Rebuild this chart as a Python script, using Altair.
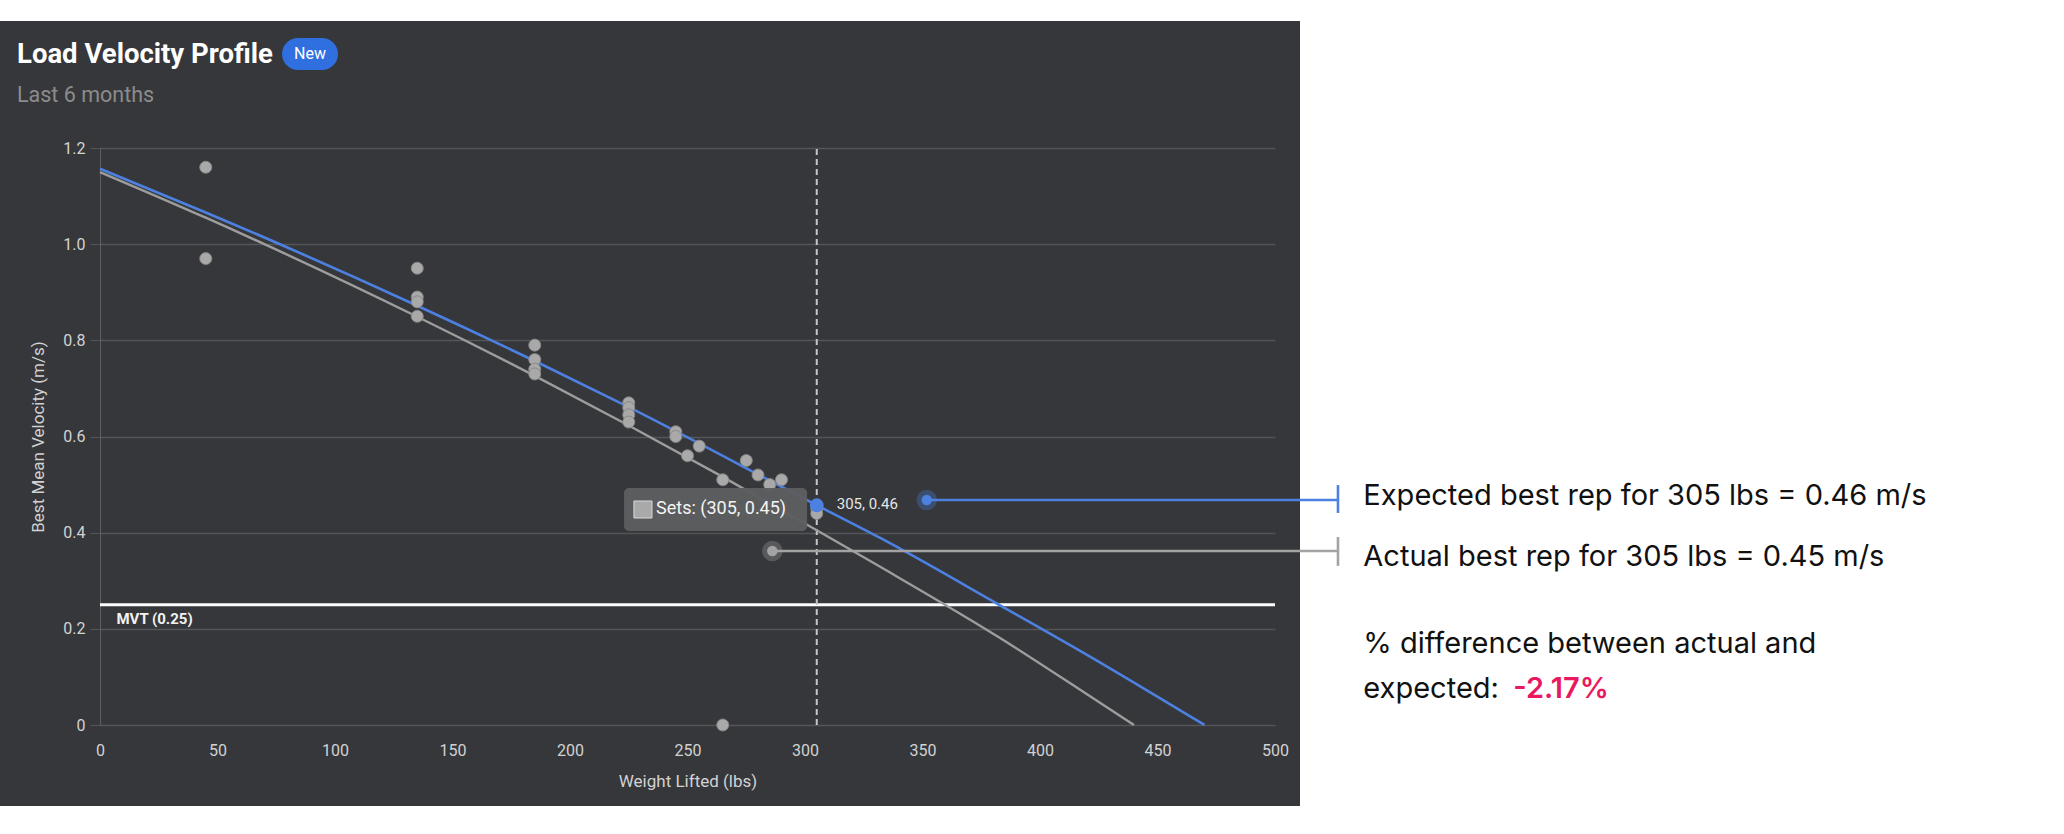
import altair as alt
import pandas as pd

# ---------------- data ----------------
set_weights = [45, 45, 135, 135, 135, 135, 185, 185, 185, 185, 225, 225, 225, 225,
               245, 245, 250, 255, 265, 275, 280, 285, 290, 305, 305, 265]
set_velocities = [1.16, 0.97, 0.95, 0.89, 0.88, 0.85, 0.79, 0.76, 0.74, 0.73, 0.67, 0.66, 0.645, 0.63,
                  0.61, 0.60, 0.56, 0.58, 0.51, 0.55, 0.52, 0.50, 0.51, 0.45, 0.44, 0.0]

expected_x = [0, 45, 135, 185, 225, 305, 332, 383, 420, 470]
expected_y = [1.157, 1.066, 0.872, 0.757, 0.661, 0.457, 0.389, 0.249, 0.146, 0.0]

actual_x = [0, 45, 135, 185, 225, 265, 305, 332, 383, 420, 440]
actual_y = [1.150, 1.055, 0.849, 0.726, 0.623, 0.516, 0.405, 0.329, 0.181, 0.064, 0.0]

mvt = 0.25
target_weight = 305
expected_v = 0.46
actual_v = 0.45
pct_diff = "-2.17%"

x_ticks = [0, 50, 100, 150, 200, 250, 300, 350, 400, 450, 500]
y_ticks = [0, 0.2, 0.4, 0.6, 0.8, 1.0, 1.2]

# ---------------- styling ----------------
W, H = 1175, 577
PANEL = "#36373a"
BLUE = "#4c80e1"
GRAY = "#9d9d9d"
GRID = "#545559"
LABEL = "#d2d2d2"
FONT = "Roboto"

xs = alt.Scale(domain=[0, 500], nice=False, zero=False)
ys = alt.Scale(domain=[0, 1.2], nice=False, zero=False)

XAX = alt.Axis(title="Weight Lifted (lbs)", values=x_ticks, grid=False, ticks=False,
               domain=True, domainColor=GRID, labelFlush=False, labelPadding=17,
               labelColor=LABEL, labelFont=FONT, labelFontSize=16,
               titleColor=LABEL, titleFont=FONT, titleFontSize=17, titleFontWeight="normal",
               titlePadding=15)
YAX = alt.Axis(title="Best Mean Velocity (m/s)", values=y_ticks, grid=True, gridColor=GRID,
               gridWidth=1.3, domain=True, domainColor="#5e5f62", ticks=True, tickSize=10,
               tickColor=GRID, labelPadding=5,
               labelExpr="datum.value == 0 ? '0' : format(datum.value, '.1f')",
               labelColor=LABEL, labelFont=FONT, labelFontSize=16,
               titleColor=LABEL, titleFont=FONT, titleFontSize=17, titleFontWeight="normal",
               titlePadding=15)


def X(f):
    return alt.X(f, type="quantitative", scale=xs, axis=XAX)


def Y(f):
    return alt.Y(f, type="quantitative", scale=ys, axis=YAX)


one = pd.DataFrame({"k": [0]})

# white surroundings of the dark card (layout only)
white_right = alt.Chart(one).mark_rect(color="white").encode(
    x=alt.value(1200), x2=alt.value(1964), y=alt.value(-148), y2=alt.value(686))
white_top = alt.Chart(one).mark_rect(color="white").encode(
    x=alt.value(-100), x2=alt.value(1964), y=alt.value(-148), y2=alt.value(-127))
white_bottom = alt.Chart(one).mark_rect(color="white").encode(
    x=alt.value(-100), x2=alt.value(1964), y=alt.value(658), y2=alt.value(686))

points_df = pd.DataFrame({"w": set_weights, "v": set_velocities})
exp_df = pd.DataFrame({"w": expected_x, "v": expected_y})
act_df = pd.DataFrame({"w": actual_x, "v": actual_y})

mvt_rule = alt.Chart(pd.DataFrame({"x0": [0], "x1": [500], "v": [mvt]})).mark_rule(
    color="white", strokeWidth=3).encode(x=X("x0"), x2="x1", y=Y("v"))
mvt_label = alt.Chart(pd.DataFrame({"x": [7], "v": [0.21], "t": ["MVT (0.25)"]})).mark_text(
    align="left", baseline="alphabetic", font=FONT, fontSize=15, fontWeight="bold",
    color="#f2f2f2").encode(x=X("x"), y=Y("v"), text="t:N")

target_rule = alt.Chart(pd.DataFrame({"w": [target_weight], "y0": [0], "y1": [1.2]})).mark_rule(
    color="#c6c6c6", strokeWidth=2, strokeDash=[6, 4]).encode(x=X("w"), y=Y("y0"), y2="y1")

act_line = alt.Chart(act_df).mark_line(color=GRAY, strokeWidth=2.4, interpolate="monotone").encode(
    x=X("w"), y=Y("v"))
exp_line = alt.Chart(exp_df).mark_line(color=BLUE, strokeWidth=2.6, interpolate="monotone").encode(
    x=X("w"), y=Y("v"))

pts = alt.Chart(points_df).mark_circle(size=145, color="#a9a9a9", opacity=1,
                                       stroke="#858585", strokeWidth=0.9).encode(
    x=X("w"), y=Y("v"))

# tooltip box
tip_box = alt.Chart(pd.DataFrame({"x0": [223.0], "x1": [300.9], "y0": [0.4035], "y1": [0.4929]})).mark_rect(
    color="#5d5e60", opacity=0.96, cornerRadius=5).encode(x=X("x0"), x2="x1", y=Y("y0"), y2="y1")
tip_swatch = alt.Chart(pd.DataFrame({"x0": [227.2], "x1": [234.9], "y0": [0.4305], "y1": [0.4659]})).mark_rect(
    color="#a9a9a9", stroke="#d8d8d8", strokeWidth=1).encode(x=X("x0"), x2="x1", y=Y("y0"), y2="y1")
tip_text = alt.Chart(pd.DataFrame({"x": [236.6], "v": [0.4492],
                                   "t": [f"Sets: ({target_weight}, {actual_v:.2f})"]})).mark_text(
    align="left", baseline="middle", font=FONT, fontSize=18, color="#f4f4f4").encode(
    x=X("x"), y=Y("v"), text="t:N")

hover_pt = alt.Chart(pd.DataFrame({"w": [target_weight], "v": [0.457]})).mark_circle(
    size=190, color=BLUE, opacity=1).encode(x=X("w"), y=Y("v"))
hover_label = alt.Chart(pd.DataFrame({"x": [313.5], "v": [0.4596],
                                      "t": [f"{target_weight}, {expected_v:.2f}"]})).mark_text(
    align="left", baseline="middle", font=FONT, fontSize=15, color="#e6e6e6").encode(
    x=X("x"), y=Y("v"), text="t:N")

# annotation callouts
ann = pd.DataFrame({"x": [351.8, 286.1], "v": [0.468, 0.362], "end": [526.8, 526.8],
                    "t0": [0.441, 0.331], "t1": [0.499, 0.391], "kind": ["exp", "act"]})
ann_color = alt.Color("kind:N", scale=alt.Scale(domain=["exp", "act"], range=[BLUE, "#a3a3a3"]),
                      legend=None)
halo = alt.Chart(ann).mark_circle(size=420, opacity=0.32).encode(x=X("x"), y=Y("v"), color=ann_color)
dot = alt.Chart(ann).mark_circle(size=110, opacity=1).encode(x=X("x"), y=Y("v"), color=ann_color)
conn = alt.Chart(ann).mark_rule(strokeWidth=2.6).encode(x=X("x"), x2="end", y=Y("v"), color=ann_color)
conn_tick = alt.Chart(ann).mark_rule(strokeWidth=2.6).encode(x=X("end"), y=Y("t0"), y2="t1",
                                                             color=ann_color)

side_df = pd.DataFrame({
    "x": [537.6, 537.6, 537.6, 537.6],
    "v": [0.4575, 0.3307, 0.1497, 0.0562],
    "t": [f"Expected best rep for {target_weight} lbs = {expected_v:.2f} m/s",
          f"Actual best rep for {target_weight} lbs = {actual_v:.2f} m/s",
          "% difference between actual and",
          "expected: "],
})
side_text = alt.Chart(side_df).mark_text(
    align="left", baseline="alphabetic", font="Inter", fontSize=29, color="#111111").encode(
    x=X("x"), y=Y("v"), text="t:N")
pct_text = alt.Chart(pd.DataFrame({"x": [601.4], "v": [0.0562], "t": [pct_diff]})).mark_text(
    align="left", baseline="alphabetic", font="Inter", fontSize=29, fontWeight=600,
    color="#e8195f").encode(x=X("x"), y=Y("v"), text="t:N")

# header (layout text)
title = alt.Chart(pd.DataFrame({"t": ["Load Velocity Profile"]})).mark_text(
    align="left", baseline="alphabetic", font=FONT, fontSize=27.5, fontWeight="bold",
    color="white").encode(x=alt.value(-83), y=alt.value(-85), text="t:N")
badge = alt.Chart(one).mark_rect(color="#2f6fe0", cornerRadius=16).encode(
    x=alt.value(182), x2=alt.value(238), y=alt.value(-110), y2=alt.value(-78))
badge_text = alt.Chart(pd.DataFrame({"t": ["New"]})).mark_text(
    align="center", baseline="middle", font=FONT, fontSize=16, color="white").encode(
    x=alt.value(210), y=alt.value(-94), text="t:N")
subtitle = alt.Chart(pd.DataFrame({"t": ["Last 6 months"]})).mark_text(
    align="left", baseline="alphabetic", font=FONT, fontSize=21.5, color="#8c8c8c").encode(
    x=alt.value(-83), y=alt.value(-46), text="t:N")

chart = alt.layer(
    white_right, white_top, white_bottom,
    mvt_rule, mvt_label, target_rule,
    act_line, exp_line, pts,
    tip_box, tip_swatch, tip_text,
    hover_pt, hover_label,
    halo, dot, conn, conn_tick,
    side_text, pct_text,
    title, badge, badge_text, subtitle,
).properties(
    width=W, height=H, padding=0, background=PANEL
).configure_view(strokeWidth=0)

chart.save("out.html", embed_options={"renderer": "svg", "actions": False})
